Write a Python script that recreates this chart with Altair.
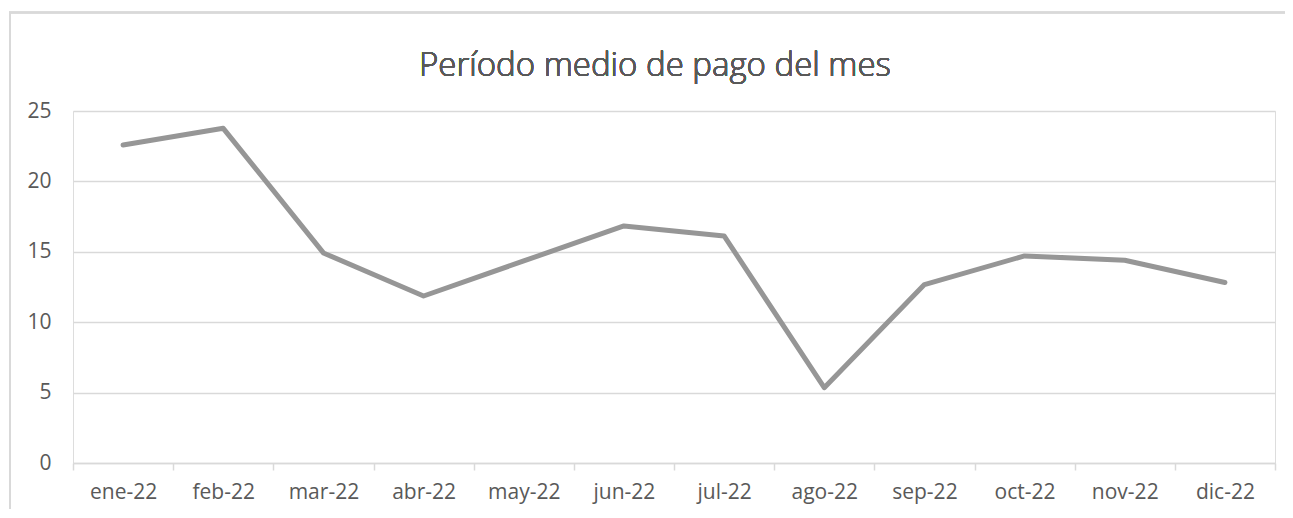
import altair as alt
import pandas as pd

months = ["ene-22", "feb-22", "mar-22", "abr-22", "may-22", "jun-22",
          "jul-22", "ago-22", "sep-22", "oct-22", "nov-22", "dic-22"]
values = [22.58, 23.77, 14.92, 11.86, 14.35, 16.84,
          16.13, 5.35, 12.67, 14.71, 14.40, 12.82]
y_ticks = [0, 5, 10, 15, 20, 25]
title_text = "Período medio de pago del mes"

df = pd.DataFrame({"mes": months, "valor": values})

FONT = "Open Sans"
TXT = "#595959"
GRID = "#d9d9d9"

line = alt.Chart(df).mark_line(
    color="#969696", strokeWidth=5, strokeCap="round", strokeJoin="round"
).encode(
    x=alt.X("mes:N", sort=months, title=None,
            scale=alt.Scale(paddingInner=0, paddingOuter=0),
            axis=alt.Axis(labelAngle=0, tickBand="extent", ticks=True,
                          tickSize=7, tickColor=GRID, tickWidth=1.5,
                          domainColor=GRID, domainWidth=1.5, grid=False,
                          labelFont=FONT, labelFontSize=21, labelColor=TXT,
                          labelPadding=11)),
    y=alt.Y("valor:Q", title=None,
            scale=alt.Scale(domain=[0, 25], nice=False),
            axis=alt.Axis(values=y_ticks, ticks=False, domain=False,
                          gridColor=GRID, gridWidth=1.5,
                          labelFont=FONT, labelFontSize=21, labelColor=TXT,
                          labelPadding=22)),
)

border = alt.Chart(df).mark_rect(
    fill=None, stroke=GRID, strokeWidth=1.5
).encode(
    x=alt.value(-63), x2=alt.value(1260),
    y=alt.value(-98.5), y2=alt.value(460)
)

title = alt.Chart(df).mark_text(
    font=FONT, fontSize=33, fontWeight=300, color=TXT,
    align="center", baseline="middle"
).encode(
    x=alt.value(582), y=alt.value(-45), text=alt.value(title_text)
)

chart = alt.layer(border, line, title).properties(
    width=1202, height=352,
    autosize=alt.AutoSizeParams(type="none"),
    padding={"left": 65, "top": 103, "right": 10, "bottom": 46},
).configure_view(stroke=None).configure(background="white")

chart.save("out.html", embed_options={"renderer": "svg", "actions": False})
